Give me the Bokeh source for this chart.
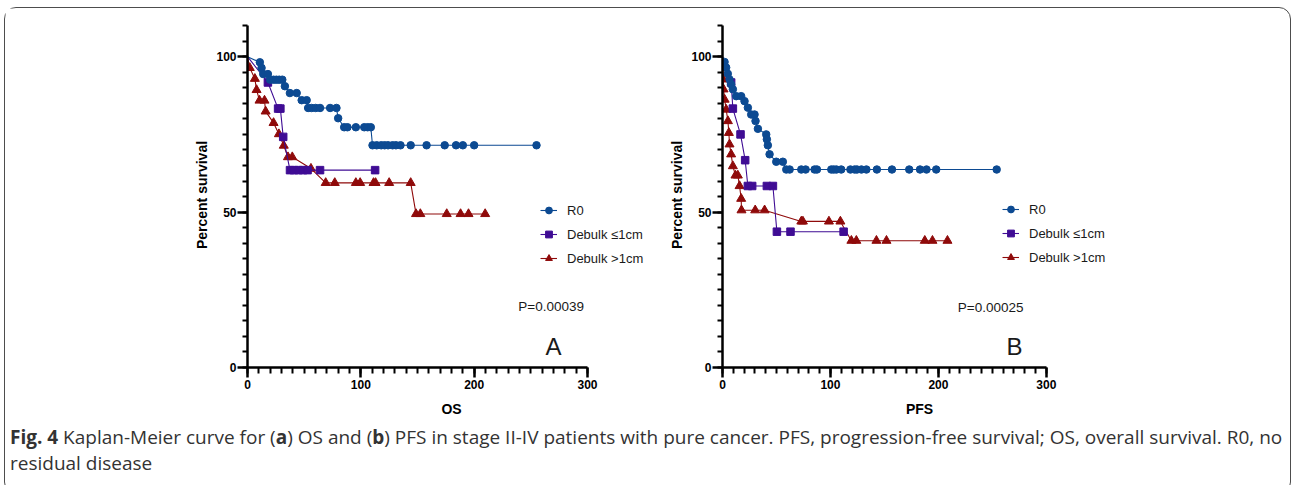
from bokeh.plotting import figure
from bokeh.models import Range1d, FixedTicker, Label, Legend, LegendItem, Div
from bokeh.layouts import row, column
from bokeh.embed import file_html
from bokeh.resources import INLINE

# ---------------- data ----------------
series_names = ["R0", "Debulk \u22641cm", "Debulk >1cm"]

# Panel A: overall survival (OS)
os_r0_t = [10.9, 12.4, 13.9, 18, 20, 23, 25.5, 28, 30.7, 33, 37.4, 43.4, 47.8, 52.2,
           53.5, 56.6, 60.2, 64, 72.9, 78.5, 80, 85.3, 88.2, 95.6, 103, 106, 108.8,
           110.3, 114, 118, 121, 124, 128, 131, 135, 144, 158, 174, 184, 190, 200, 255]
os_r0_s = [98.2, 96.4, 94.4, 94.4, 92.6, 92.6, 92.6, 92.6, 92.6, 90.5, 88.3, 88.3, 86, 86,
           83.5, 83.5, 83.5, 83.5, 83.5, 83.5, 80.2, 77.3, 77.3, 77.3, 77.3, 77.3, 77.3,
           71.5, 71.5, 71.5, 71.5, 71.5, 71.5, 71.5, 71.5, 71.5, 71.5, 71.5, 71.5, 71.5, 71.5, 71.5]
os_d1_t = [18, 27, 29, 31.5, 37.5, 41, 45, 49, 53, 64, 112.6]
os_d1_s = [91.7, 83.3, 83.3, 74.2, 63.5, 63.5, 63.5, 63.5, 63.5, 63.5, 63.5]
os_d2_t = [2, 6.5, 8, 10.6, 15, 16, 23, 27.7, 32, 35.7, 39.5, 56, 69, 77, 95.6, 99.4,
           111.2, 113, 125, 144, 148.7, 152.5, 175.8, 188, 195, 209.7]
os_d2_s = [96.4, 92.9, 89.3, 85.9, 85.9, 82.4, 78.7, 75.1, 71.4, 67.7, 67.7, 64.0, 59.4, 59.4,
           59.4, 59.4, 59.4, 59.4, 59.4, 59.4, 49.4, 49.4, 49.4, 49.4, 49.4, 49.4]

# Panel B: progression-free survival (PFS)
pfs_r0_t = [1.9, 3.4, 4.9, 6.5, 8, 9.6, 12.7, 17.3, 20.4, 23.5, 26.6, 29.7, 30.6, 32.8,
            40.5, 41.1, 42, 43.6, 49.8, 55.9, 59.1, 62.2, 73, 77, 85.3, 87.5, 100.8, 103,
            105.5, 110, 118.5, 122.4, 124.6, 128.7, 133.3, 143, 157, 173, 183, 189, 198, 254]
pfs_r0_s = [98.3, 96.5, 94.5, 92.7, 91.1, 89.5, 87.3, 87.3, 85.7, 83.6, 81.4, 81.4, 79.3, 76.8,
            75.0, 73.4, 71.5, 68.6, 66.2, 66.2, 63.7, 63.7, 63.7, 63.7, 63.7, 63.7, 63.7, 63.7,
            63.7, 63.7, 63.7, 63.7, 63.7, 63.7, 63.7, 63.7, 63.7, 63.7, 63.7, 63.7, 63.7, 63.7]
pfs_d1_t = [8, 9.6, 16.7, 21, 23.5, 27.5, 41.1, 46.7, 50.4, 63, 112.2]
pfs_d1_s = [91.7, 83.3, 75.0, 66.7, 58.4, 58.4, 58.4, 58.4, 43.7, 43.7, 43.7]
pfs_d2_t = [0.5, 0.7, 1, 2, 3.4, 5, 5.9, 6.5, 8, 9.6, 12, 14.2, 15.8, 17.3, 17.6, 30.3, 39,
            73, 74.5, 98.6, 109.2, 119.4, 124, 142.6, 151.9, 187.4, 194.5, 208.4]
pfs_d2_s = [96.4, 92.7, 89.5, 86.2, 83.0, 79.3, 75.5, 71.8, 68.6, 64.8, 61.8, 61.8, 58.4, 54.3,
            50.6, 50.6, 50.6, 47.0, 47.0, 47.0, 47.0, 40.8, 40.8, 40.8, 40.8, 40.8, 40.8, 40.8]

x_major_ticks = [0, 100, 200, 300]
x_minor_ticks = list(range(0, 301, 10))
y_major_ticks = [0, 50, 100]
y_minor_ticks = list(range(0, 111, 5))

panel_a_xlabel = "OS"
panel_b_xlabel = "PFS"
y_label = "Percent survival"
p_a_text = "P=0.00039"
p_b_text = "P=0.00025"
letter_a = "A"
letter_b = "B"
caption_bold = "Fig. 4"
caption_rest_1 = (" Kaplan-Meier curve for (", "a", ") OS and (", "b",
                  ") PFS in stage II-IV patients with pure cancer. PFS, progression-free survival; OS, overall survival. R0, no")
caption_line_2 = "residual disease"

# ---------------- style ----------------
COLORS = ["#0c4a92", "#3f0c94", "#8f0a0a"]
MARKERS = ["circle", "square", "triangle"]
MSIZE = [7.5, 7.5, 9]
AX_FONT = "Liberation Sans"
TXT = "#1a1a1a"


def make_panel(xlabel, ptext, letter, series, x_end, frame_w, mb_left, mb_right,
               legend_xy, p_xy, letter_xy):
    p = figure(frame_width=frame_w, frame_height=345,
               min_border_left=mb_left, min_border_right=mb_right,
               min_border_top=14, min_border_bottom=46,
               x_range=Range1d(0, x_end), y_range=Range1d(0, 111),
               output_backend="svg", toolbar_location=None)
    p.outline_line_color = None
    p.grid.visible = False
    p.background_fill_color = "white"
    p.border_fill_color = "white"

    xa = p.xaxis[0]
    xa.ticker = FixedTicker(ticks=x_major_ticks, minor_ticks=x_minor_ticks)
    xa.bounds = (0, 300)
    xa.axis_label = xlabel
    ya = p.yaxis[0]
    ya.ticker = FixedTicker(ticks=y_major_ticks, minor_ticks=y_minor_ticks)
    ya.bounds = (0, 110)
    ya.axis_label = y_label
    for ax in (xa, ya):
        ax.axis_line_width = 2.5
        ax.axis_line_color = "black"
        ax.major_tick_line_width = 2.5
        ax.minor_tick_line_width = 2
        ax.major_tick_in = 0
        ax.minor_tick_in = 0
        ax.major_tick_out = 10
        ax.major_label_text_font = AX_FONT
        ax.major_label_text_font_style = "bold"
        ax.major_label_text_font_size = "12px"
        ax.major_label_text_color = "black"
        ax.axis_label_text_font = AX_FONT
        ax.axis_label_text_font_style = "bold"
        ax.axis_label_text_font_size = "14px"
        ax.axis_label_text_color = "black"
    xa.minor_tick_out = 6
    ya.minor_tick_out = 5
    xa.major_label_standoff = 2
    ya.major_label_standoff = 1
    xa.axis_label_standoff = 9
    ya.axis_label_standoff = 3

    order = [2, 1, 0]
    rends = {}
    for i in order:
        t, s = series[i]
        ln = p.line([0] + t, [100] + s, line_color=COLORS[i], line_width=1.1)
        mk = p.scatter(t, s, marker=MARKERS[i], size=MSIZE[i],
                       fill_color=COLORS[i], line_color=COLORS[i])
        rends[i] = (ln, mk)
    items = [LegendItem(label=series_names[i], renderers=list(rends[i])) for i in range(3)]
    leg = Legend(items=items, location=legend_xy, orientation="vertical",
                 glyph_width=17, glyph_height=20, label_height=20, label_standoff=10,
                 spacing=4, padding=0, margin=0, border_line_color=None,
                 background_fill_alpha=0, label_text_font=AX_FONT,
                 label_text_font_size="13px", label_text_color=TXT)
    p.add_layout(leg)

    p.add_layout(Label(x=p_xy[0], y=p_xy[1], text=ptext, text_font=AX_FONT,
                       text_font_size="13.5px", text_color=TXT,
                       text_baseline="alphabetic"))
    p.add_layout(Label(x=letter_xy[0], y=letter_xy[1], text=letter, text_font=AX_FONT,
                       text_font_size="24px", text_color=TXT,
                       text_baseline="alphabetic"))
    return p


pa = make_panel(panel_a_xlabel, p_a_text, letter_a,
                [(os_r0_t, os_r0_s), (os_d1_t, os_d1_s), (os_d2_t, os_d2_s)],
                x_end=360, frame_w=408, mb_left=242, mb_right=0,
                legend_xy=(293, 99), p_xy=(239, 19.6), letter_xy=(263, 6.8))
pb = make_panel(panel_b_xlabel, p_b_text, letter_b,
                [(pfs_r0_t, pfs_r0_s), (pfs_d1_t, pfs_d1_s), (pfs_d2_t, pfs_d2_s)],
                x_end=365, frame_w=394, mb_left=67, mb_right=164,
                legend_xy=(280, 100), p_xy=(218, 19.3), letter_xy=(263, 6.8))

cap_html = ('<div style="font-family:\'Open Sans\'; font-size:19px; color:#333; '
            'line-height:26px; white-space:nowrap; padding-left:0px; margin-top:0px;">'
            '<b>' + caption_bold + '</b>' + caption_rest_1[0] + '<b>' + caption_rest_1[1] + '</b>'
            + caption_rest_1[2] + '<b>' + caption_rest_1[3] + '</b>' + caption_rest_1[4]
            + '<br>' + caption_line_2 + '</div>')
cap = Div(text=cap_html, width=1275, height=64)

layout = column(row(pa, pb), cap,
                styles={"border": "1.5px solid #4d4d4d", "border-radius": "12px",
                        "margin-left": "4px", "margin-right": "5px", "margin-top": "7px"})

open("out.html", "w").write(file_html(layout, INLINE))
